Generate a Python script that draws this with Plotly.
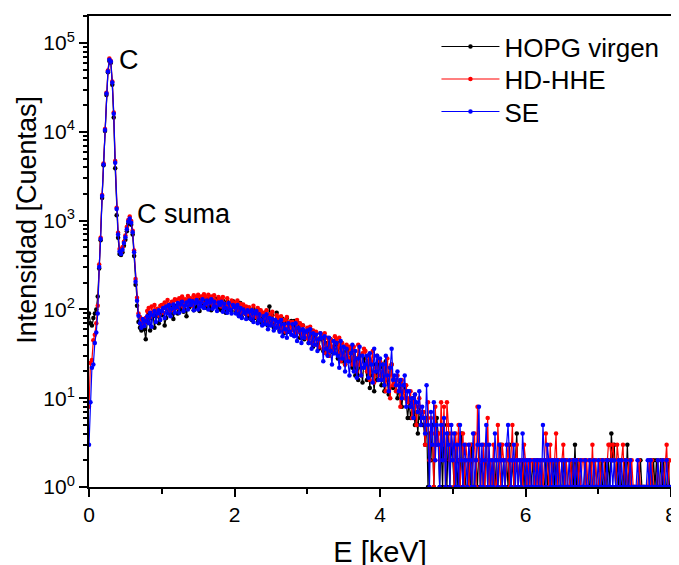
import plotly.graph_objects as go

# EDS spectra, counts per 0.02 keV channel starting at 0 keV
E_STEP = 0.02

hopg_virgen = [
    90, 70, 66, 80, 90, 100, 140, 290, 600, 1800,
    4200, 10200, 26000, 47000, 63000, 60000, 34000, 14500, 3900, 1150,
    640, 420, 410, 440, 520, 610, 760, 920, 990, 900,
    700, 400, 190, 110, 72, 62, 58, 66, 60, 46,
    72, 88, 58, 80, 92, 62, 84, 96, 70, 90,
    86, 104, 66, 80, 102, 110, 88, 114, 78, 104,
    110, 90, 118, 100, 126, 94, 114, 84, 120, 106,
    116, 128, 98, 122, 106, 130, 96, 124, 112, 108,
    124, 104, 130, 110, 98, 128, 108, 120, 132, 100,
    118, 98, 126, 104, 92, 122, 100, 114, 96, 124,
    112, 92, 108, 86, 118, 82, 104, 94, 88, 80,
    100, 84, 76, 102, 80, 94, 72, 98, 80, 70,
    88, 70, 82, 66, 108, 68, 86, 62, 74, 92,
    76, 58, 66, 78, 54, 70, 80, 56, 66, 74,
    66, 74, 52, 62, 70, 48, 58, 66, 46, 56,
    56, 42, 52, 58, 38, 50, 54, 40, 36, 48,
    46, 34, 48, 32, 42, 30, 46, 36, 32, 42,
    40, 28, 42, 32, 26, 38, 24, 34, 36, 26,
    32, 22, 34, 18, 28, 16, 30, 22, 15, 28,
    24, 16, 26, 13, 24, 18, 12, 24, 16, 26,
    22, 14, 24, 12, 26, 16, 11, 22, 24, 13,
    14, 16, 10, 12, 15, 8, 12, 14, 10, 6,
    9, 6, 8, 10, 5, 7, 4, 8, 6, 5,
    5, 3, 6, 1, 4, 2, 5, 1, 3, 6,
    4, 1, 3, 1, 5, 2, 1, 4, 1, 3,
    2, 1, 3, 1, 2, 1, 4, 1, 2, 1,
    1, 2, 1, 3, 1, 1, 2, 1, 3, 1,
    2, 1, 1, 3, 1, 2, 1, 1, 2, 1,
    2, 1, 2, 3, 1, 2, 1, 2, 1, 3,
    1, 2, 1, 2, 4, 1, 2, 1, 2, 1,
    2, 1, 1, 2, 1, 2, 1, 1, 2, 1,
    1, 2, 1, 1, 2, 1, 2, 1, 1, 2,
    1, 2, 1, 2, 1, 1, 2, 1, 2, 1,
    1, 1, 2, 1, 3, 1, 2, 1, 1, 1,
    1, 2, 1, 1, 1, 2, 1, 1, 2, 1,
    1, 1, 2, 1, 1, 2, 1, 2, 1, 4,
    2, 3, 1, 2, 1, 2, 1, 1, 2, 1,
    3, 1, 2, 1, 1, 1, 1, 1, 1, 2,
    1, 1, 1, 1, 1, 1, 2, 1, 2, 1,
    2, 1, 1, 2, 1, 2, 1, 1, 2, 1,
]

hd_hhe = [
    8, 25, 27, 45, 52, 70, 110, 320, 640, 1950,
    4400, 10800, 27500, 49000, 67000, 63000, 37000, 16500, 4700, 1400,
    730, 480, 440, 500, 580, 680, 850, 1020, 1110, 990,
    770, 460, 220, 135, 90, 82, 68, 75, 70, 80,
    96, 104, 82, 108, 90, 112, 94, 102, 86, 110,
    112, 92, 120, 104, 128, 96, 116, 122, 98, 130,
    128, 104, 134, 112, 140, 106, 130, 118, 142, 112,
    134, 110, 144, 120, 136, 146, 114, 140, 122, 148,
    138, 114, 146, 120, 140, 112, 144, 126, 114, 138,
    130, 108, 138, 116, 104, 134, 112, 102, 126, 110,
    120, 100, 126, 96, 116, 92, 114, 90, 108, 88,
    106, 90, 84, 110, 86, 82, 104, 78, 98, 86,
    92, 74, 98, 70, 88, 68, 94, 74, 66, 86,
    80, 62, 84, 58, 76, 56, 82, 62, 72, 58,
    72, 58, 52, 76, 56, 70, 50, 66, 54, 48,
    62, 46, 64, 42, 58, 40, 56, 46, 38, 54,
    52, 36, 54, 32, 48, 30, 46, 38, 34, 50,
    46, 32, 48, 26, 42, 30, 24, 40, 28, 38,
    36, 24, 38, 28, 20, 40, 24, 18, 32, 36,
    34, 20, 30, 16, 26, 34, 15, 22, 30, 18,
    26, 16, 20, 24, 12, 28, 18, 10, 24, 14,
    16, 12, 18, 14, 8, 16, 12, 10, 14, 9,
    10, 12, 6, 9, 11, 5, 8, 10, 7, 6,
    7, 3, 5, 9, 2, 6, 4, 1, 8, 3,
    4, 2, 9, 3, 8, 1, 9, 5, 2, 4,
    3, 1, 4, 2, 5, 1, 2, 4, 1, 3,
    2, 1, 3, 1, 2, 4, 1, 8, 2, 1,
    1, 3, 1, 2, 6, 1, 2, 1, 3, 1,
    1, 5, 2, 1, 3, 2, 1, 2, 3, 1,
    2, 5, 1, 2, 3, 1, 2, 2, 1, 3,
    2, 1, 2, 1, 2, 2, 1, 2, 1, 2,
    1, 2, 1, 2, 4, 2, 1, 3, 1, 2,
    2, 4, 1, 2, 1, 2, 3, 1, 2, 1,
    1, 2, 1, 2, 1, 2, 1, 2, 1, 2,
    2, 1, 2, 1, 2, 1, 3, 1, 2, 1,
    1, 2, 1, 2, 2, 1, 2, 3, 3, 2,
    3, 2, 1, 3, 2, 1, 2, 3, 1, 2,
    1, 2, 1, 2, 1, 1, 1, 1, 2, 1,
    1, 1, 1, 1, 1, 2, 1, 2, 1, 1,
    1, 2, 1, 1, 2, 1, 2, 3, 1, 2,
]

se = [
    3, 9, 22, 24, 42, 55, 90, 300, 620, 1900,
    4300, 10500, 27000, 48000, 65000, 62000, 36000, 16000, 4500, 1350,
    700, 450, 420, 470, 560, 650, 800, 980, 1060, 950,
    740, 440, 205, 125, 85, 70, 62, 78, 65, 74,
    84, 70, 92, 64, 86, 96, 72, 90, 98, 76,
    96, 104, 80, 108, 90, 112, 84, 102, 114, 92,
    106, 118, 92, 114, 122, 96, 110, 120, 100, 126,
    112, 124, 98, 118, 128, 100, 120, 108, 130, 104,
    116, 126, 100, 120, 130, 102, 122, 108, 96, 120,
    112, 122, 94, 116, 104, 92, 118, 100, 90, 112,
    106, 90, 112, 84, 104, 80, 100, 92, 78, 98,
    94, 78, 98, 72, 90, 96, 70, 88, 76, 66,
    84, 68, 88, 60, 80, 66, 78, 58, 76, 62,
    72, 56, 76, 50, 68, 60, 48, 70, 56, 52,
    68, 50, 70, 44, 62, 58, 42, 60, 48, 56,
    58, 42, 60, 36, 54, 40, 52, 34, 46, 54,
    48, 26, 50, 36, 30, 48, 34, 24, 44, 32,
    42, 30, 22, 44, 28, 38, 20, 36, 26, 18,
    32, 40, 20, 34, 17, 28, 38, 18, 30, 22,
    24, 30, 17, 32, 24, 15, 36, 20, 30, 16,
    28, 16, 24, 14, 30, 18, 12, 22, 36, 16,
    18, 14, 20, 12, 16, 10, 14, 18, 8, 12,
    12, 8, 10, 6, 11, 9, 7, 12, 5, 8,
    6, 4, 14, 5, 1, 7, 3, 9, 2, 5,
    3, 1, 5, 2, 6, 1, 4, 3, 1, 5,
    2, 4, 1, 3, 1, 5, 2, 1, 3, 2,
    1, 3, 2, 1, 4, 1, 2, 3, 8, 1,
    3, 1, 2, 5, 1, 3, 1, 2, 1, 4,
    2, 1, 3, 2, 1, 2, 1, 3, 5, 2,
    1, 2, 3, 1, 2, 1, 2, 1, 4, 2,
    1, 2, 1, 2, 1, 1, 2, 1, 2, 1,
    2, 1, 5, 2, 1, 3, 2, 1, 2, 1,
    2, 1, 2, 1, 1, 2, 1, 2, 1, 1,
    2, 1, 1, 2, 1, 2, 1, 1, 2, 1,
    1, 2, 1, 1, 2, 1, 1, 2, 1, 1,
    2, 1, 1, 2, 1, 1, 2, 1, 1, 2,
    1, 2, 1, 1, 2, 1, 2, 1, 1, 2,
    1, 1, 2, 1, 1, 1, 1, 2, 1, 1,
    1, 1, 1, 1, 2, 1, 2, 1, 1, 1,
    1, 2, 1, 1, 2, 1, 1, 2, 1, 1,
]

y_tickvals = [1, 10, 100, 1000, 10000, 100000]
y_ticktext = ['10<sup>%d</sup>' % k for k in range(6)]

FONT = 'Liberation Sans, Arial, sans-serif'

series = [('HOPG virgen', hopg_virgen, 'black', 'legend'),
          ('HD-HHE', hd_hhe, '#ff0000', 'legend2'),
          ('SE', se, '#0000ff', 'legend3')]

fig = go.Figure()
for name, counts, color, leg in series:
    fig.add_trace(go.Scatter(
        y=counts, x0=0, dx=E_STEP,
        mode='lines+markers', name=name, legend=leg,
        line=dict(color=color, width=1.2),
        marker=dict(color=color, size=4.5)))

fig.add_annotation(x=0.38, y=4.81, text='C', showarrow=False,
                   xanchor='left', font=dict(size=27, color='black', family=FONT))
fig.add_annotation(x=0.63, y=3.07, text='C suma', showarrow=False,
                   xanchor='left', font=dict(size=27, color='black', family=FONT))
# y axis title sits above the centre of the axis in the original
fig.add_annotation(xref='paper', yref='paper', x=-0.107, y=0.567,
                   text='Intensidad [Cuentas]', textangle=-90, showarrow=False,
                   xanchor='center', yanchor='middle',
                   font=dict(size=27, color='black', family=FONT))

legend_style = dict(x=0.597, xanchor='left', yanchor='middle',
                    bgcolor='rgba(0,0,0,0)', font=dict(size=26), itemwidth=58)

# the page body adds an 8px offset, so margins are shifted to compensate
fig.update_layout(
    width=679, height=565,
    margin=dict(l=81, r=16, t=8, b=86, autoexpand=False),
    paper_bgcolor='white', plot_bgcolor='white',
    font=dict(family=FONT, color='black'),
    showlegend=True,
    legend=dict(y=0.935, **legend_style),
    legend2=dict(y=0.866, **legend_style),
    legend3=dict(y=0.797, **legend_style),
    xaxis=dict(range=[0, 8], dtick=2, showgrid=False, zeroline=False, automargin=False,
               showline=True, linecolor='black', linewidth=2, mirror=True,
               ticks='outside', ticklen=8, tickwidth=2, tickcolor='black',
               ticklabeloverflow='allow',
               minor=dict(dtick=1, ticks='outside', ticklen=5, tickwidth=2, tickcolor='black'),
               tickfont=dict(size=21),
               title=dict(text='E [keV]', font=dict(size=29), standoff=16)),
    yaxis=dict(type='log', range=[0, 5.305], showgrid=False, zeroline=False, automargin=False,
               tickmode='array', tickvals=y_tickvals, ticktext=y_ticktext,
               showline=True, linecolor='black', linewidth=2, mirror=True,
               ticks='outside', ticklen=8, tickwidth=2, tickcolor='black',
               minor=dict(tickmode='array',
                          tickvals=[m * 10 ** k for k in range(6) for m in range(2, 10)],
                          ticks='outside', ticklen=4, tickwidth=1.5, tickcolor='black'),
               tickfont=dict(size=21)),
)

fig.write_html("out.html")
